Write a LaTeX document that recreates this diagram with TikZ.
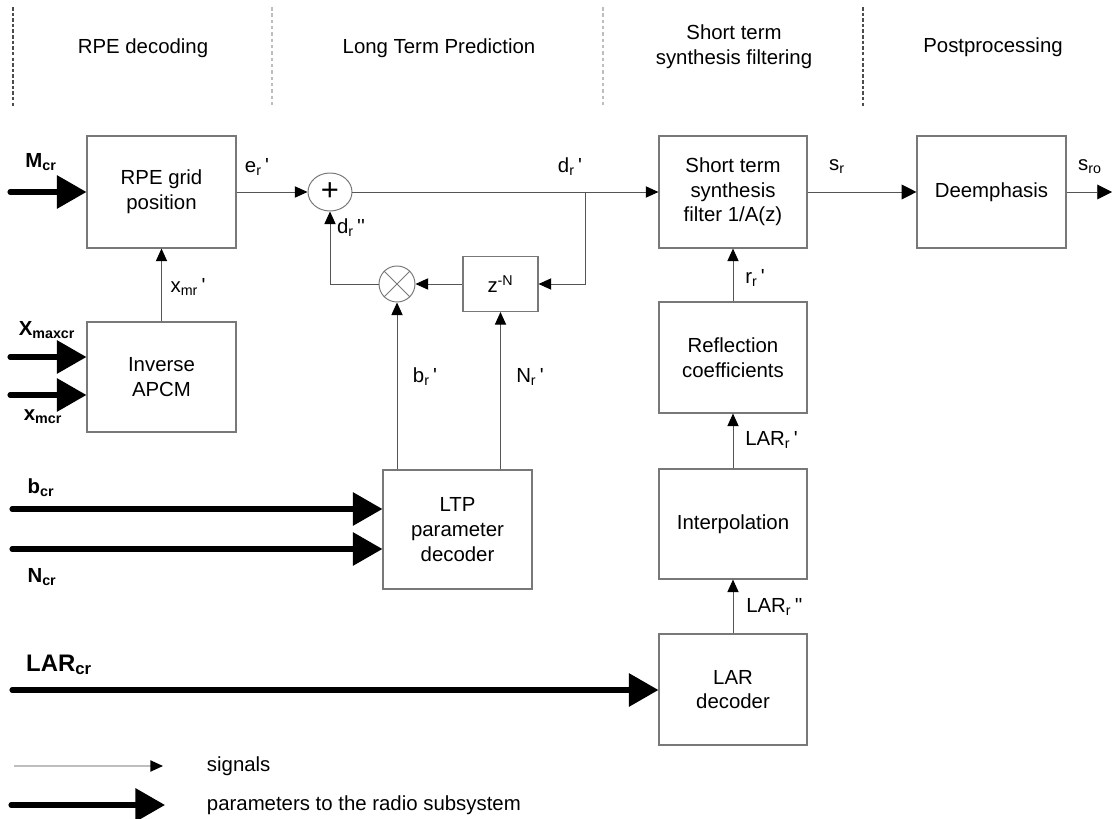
\documentclass[tikz,border=0pt]{standalone}
\usepackage{fontspec}
\setmainfont{Liberation Sans}
\usetikzlibrary{positioning, arrows.meta, shapes.geometric}
\definecolor{sigline}{RGB}{85, 85, 85}
\definecolor{boxline}{RGB}{120, 120, 120}
\definecolor{sepgray}{RGB}{190, 190, 190}
\newcommand{\primesym}{\textquotesingle}

\begin{document}
\begin{tikzpicture}[
    font=\fontsize{14.5}{17.5}\selectfont,
    block/.style={draw=boxline, line width=0.8pt, minimum width=3.725cm,
                  minimum height=2.8cm, align=center, inner sep=2pt},
    sig/.style={draw=sigline, line width=0.7pt,
                -{Triangle[length=9pt, width=8pt, color=black]}},
    bigsig/.style={sig, -{Triangle[length=10.5pt, width=10.5pt, color=black]}},
    par/.style={line width=3.6pt, line cap=round,
                -{Triangle[length=21pt, width=23pt]}},
    darksep/.style={draw=black!70, line width=0.8pt, dash pattern=on 2.5pt off 1.5pt},
    lightsep/.style={draw=sepgray, line width=1.4pt, dash pattern=on 2.5pt off 2pt},
    lbl/.style={inner sep=0pt},
    inlbl/.style={inner sep=0pt, font=\fontsize{14.5}{17.5}\selectfont\bfseries}
]

\useasboundingbox (0,0) rectangle (27.825,-20.475);

% section headers
\foreach \sx in {0.325, 21.575} \draw[darksep] (\sx,-0.175) -- (\sx,-2.675);
\foreach \sx in {6.8, 15.075} \draw[lightsep] (\sx,-0.175) -- (\sx,-2.675);

\node[align=center] (hrpe) at (3.575,-1.2) {RPE decoding};
\node[align=center] (hltp) at (10.975,-1.2) {Long Term Prediction};
\node[align=center] (hstf) at (18.35,-1.175) {Short term\\synthesis filtering};
\node[align=center] (hpost) at (24.825,-1.175) {Postprocessing};

% blocks
\node[block] (rpe) at (4.0375,-4.8) {RPE grid\\position};
\node[block, minimum height=2.75cm] (apcm) at (4.0375,-9.425) {Inverse\\APCM};
\node[ellipse, draw=boxline, line width=0.7pt, minimum width=1.1cm,
      minimum height=0.95cm, inner sep=0pt,
      font=\fontsize{22}{22}\selectfont] (sum) at (8.25,-4.8) {+};
\node[circle, draw=boxline, line width=0.7pt, minimum size=0.9cm,
      inner sep=0pt] (mul) at (9.925,-7.1) {};
\draw[boxline, line width=0.7pt] (mul.north west) -- (mul.south east)
                                 (mul.north east) -- (mul.south west);
\node[block, minimum width=1.875cm, minimum height=1.375cm] (delay) at (12.5125,-7.1)
    {z\textsuperscript{-N}};
\node[block, minimum height=2.975cm] (ltp) at (11.4375,-13.2375)
    {LTP\\parameter\\decoder};
\node[block, minimum width=3.7cm] (stf) at (18.325,-4.8)
    {Short term\\synthesis\\filter 1/A(z)};
\node[block] (deemph) at (24.7875,-4.8) {Deemphasis};
\node[block, minimum width=3.7cm, minimum height=2.775cm] (refl) at (18.325,-8.9375)
    {Reflection\\coefficients};
\node[block, minimum width=3.7cm, minimum height=2.75cm] (interp) at (18.325,-13.1)
    {Interpolation};
\node[block, minimum width=3.7cm, minimum height=2.775cm] (lardec) at (18.325,-17.2375)
    {LAR\\decoder};

% signals
\coordinate (br) at (14.625,-4.8);
\coordinate (sro) at (27.8,-4.8);
\draw[sig] (rpe) -- (sum);
\draw[sig] (sum) -- (stf);
\draw[sig] (br) |- (delay.east);
\draw[sig] (delay) -- (mul);
\draw[sig] (mul.west) -| (sum.south);
\draw[sig] (ltp.north -| mul.south) -- (mul.south);
\draw[sig] (ltp.north -| delay.south) -- (delay.south);
\draw[sig] (apcm) -- (rpe);
\draw[sig] (refl) -- (stf);
\draw[sig] (interp) -- (refl);
\draw[sig] (lardec) -- (interp);
\draw[bigsig] (stf) -- (deemph);
\draw[bigsig] (deemph) -- (sro);

% parameters
\coordinate (mcr) at (0.25,-4.8);
\coordinate (xmax) at (0.25,-8.925);
\coordinate (xm) at (0.25,-9.875);
\coordinate (bcr) at (0.3,-12.725);
\coordinate (ncr) at (0.3,-13.725);
\coordinate (larcr) at (0.3,-17.25);
\draw[par] (mcr) -- (rpe);
\draw[par] (xmax) -- (xmax -| apcm.west);
\draw[par] (xm) -- (xm -| apcm.west);
\draw[par] (bcr) -- (bcr -| ltp.west);
\draw[par] (ncr) -- (ncr -| ltp.west);
\draw[par] (larcr) -- (larcr -| lardec.west);

% labels
\node[inlbl] (mcrl) at (1.025,-4.05) {M\textsubscript{cr}};
\node[inlbl] (xmaxl) at (1.175,-8.25) {X\textsubscript{maxcr}};
\node[inlbl] (xml) at (1.075,-10.425) {x\textsubscript{mcr}};
\node[inlbl] (bcrl) at (1.025,-12.2) {b\textsubscript{cr}};
\node[inlbl] (ncrl) at (1.05,-14.425) {N\textsubscript{cr}};
\node[inlbl, font=\fontsize{17}{20}\selectfont\bfseries] (larcrl) at (1.475,-16.625)
    {LAR\textsubscript{cr}};

\node[lbl] (erl) at (6.425,-4.175) {e\textsubscript{r}\,\primesym};
\node[lbl] (drrl) at (8.775,-5.7) {d\textsubscript{r}\,\primesym\primesym};
\node[lbl] (drl) at (14.25,-4.175) {d\textsubscript{r}\,\primesym};
\node[lbl] (xmrl) at (4.7,-7.175) {x\textsubscript{mr}\,\primesym};
\node[lbl] (brl) at (10.625,-9.425) {b\textsubscript{r}\,\primesym};
\node[lbl] (nrl) at (13.25,-9.425) {N\textsubscript{r}\,\primesym};
\node[lbl] (srl) at (20.925,-4.175) {s\textsubscript{r}};
\node[lbl] (srol) at (27.25,-4.175) {s\textsubscript{ro}};
\node[lbl, anchor=west] (rrl) at (18.625,-6.95) {r\textsubscript{r}\,\primesym};
\node[lbl, anchor=west] (larrl) at (18.625,-11.0) {LAR\textsubscript{r}\,\primesym};
\node[lbl, anchor=west] (larrrl) at (18.65,-15.175) {LAR\textsubscript{r}\,\primesym\primesym};

% legend
\coordinate (sigA) at (0.35,-19.15);
\coordinate (sigB) at (4.075,-19.15);
\coordinate (parA) at (0.275,-20.125);
\coordinate (parB) at (4.125,-20.125);
\draw[draw=sepgray, line width=1pt, -{Triangle[length=9pt, width=8pt, color=black]}]
    (sigA) -- (sigB);
\draw[par] (parA) -- (parB);
\node[anchor=west] (sigtxt) at (5.05,-19.15) {signals};
\node[anchor=west] (partxt) at (5.05,-20.125) {parameters to the radio subsystem};

\end{tikzpicture}
\end{document}
